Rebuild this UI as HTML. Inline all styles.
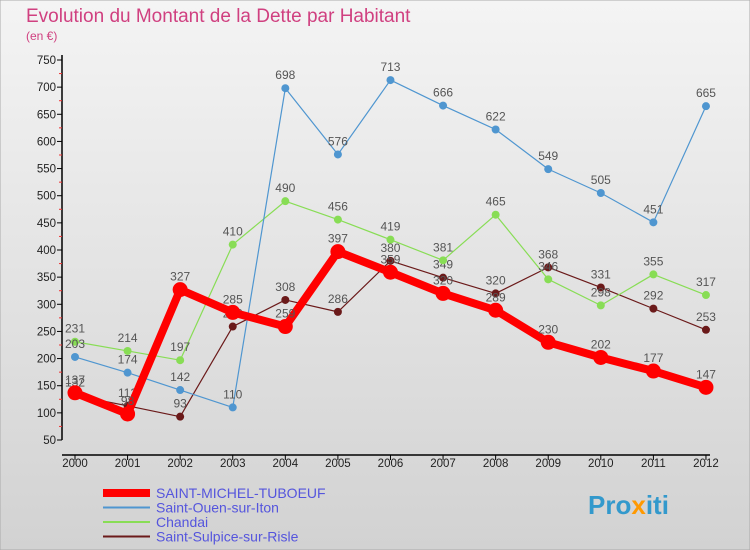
<!DOCTYPE html>
<html><head><meta charset="utf-8"><style>
body{margin:0;width:750px;height:550px;overflow:hidden;font-family:"Liberation Sans",sans-serif}
#c{position:absolute;left:0;top:0}
</style></head><body>
<svg id="c" width="750" height="550">
<defs>
<linearGradient id="bg" x1="0" y1="0" x2="0" y2="1"><stop offset="0" stop-color="#f4f4f4"/><stop offset="1" stop-color="#d2d2d2"/></linearGradient>
</defs>
<rect x="0" y="0" width="750" height="550" fill="url(#bg)" stroke="#aaa"/>
<text x="26" y="22" font-size="19" fill="#d04080">Evolution du Montant de la Dette par Habitant</text>
<text x="26" y="40" font-size="12" fill="#d04080">(en €)</text>
<g id="axes"></g>
<g id="series"></g>
<g id="legend"></g>
<text x="588" y="514" font-size="26" font-weight="bold" fill="#3399cc">Pro<tspan fill="#ff9900">x</tspan>iti</text>
</svg>
<script>
const years=[2000,2001,2002,2003,2004,2005,2006,2007,2008,2009,2010,2011,2012];
const yTicks=[50,100,150,200,250,300,350,400,450,500,550,600,650,700,750];
const seriesNames=["SAINT-MICHEL-TUBOEUF","Saint-Ouen-sur-Iton","Chandai","Saint-Sulpice-sur-Risle"];
const saintMichel=[137,98,327,285,259,397,359,320,289,230,202,177,147];
const saintOuen=[203,174,142,110,698,576,713,666,622,549,505,451,665];
const chandai=[231,214,197,410,490,456,419,381,465,346,298,355,317];
const saintSulpice=[132,113,93,259,308,286,380,349,320,368,331,292,253];
const NS="http://www.w3.org/2000/svg";
function X(i){return 75+i*52.58;}
function Y(v){return 440-(v-50)*380/700;}
function mk(t,a,p){const e=document.createElementNS(NS,t);for(const k in a)e.setAttribute(k,a[k]);p.appendChild(e);return e;}
const ax=document.getElementById('axes');
let l=mk('line',{x1:62,y1:55,x2:62,y2:440,stroke:'#000','stroke-width':1.5},ax);


l=mk('line',{x1:62,y1:455,x2:710,y2:455,stroke:'#000','stroke-width':1.5},ax);


yTicks.forEach(v=>{
 mk('line',{x1:57,y1:Y(v),x2:62,y2:Y(v),stroke:'#000'},ax);
 if(v<750) mk('line',{x1:59,y1:Y(v+25),x2:62,y2:Y(v+25),stroke:'#e33'},ax);
 const t=mk('text',{x:56,y:Y(v)+4,'font-size':11.5,'text-anchor':'end',fill:'#222'},ax);
 t.textContent=v;
 
 
});
years.forEach((y,i)=>{
 mk('line',{x1:X(i),y1:455,x2:X(i),y2:460,stroke:'#000'},ax);
 const t=mk('text',{x:X(i),y:467,'font-size':11.5,'text-anchor':'middle',fill:'#222'},ax);
 t.textContent=y;
 
 
});
const sg=document.getElementById('series');
const defs=[
 {d:saintSulpice,c:'#6b1a1a',w:1.2,r:4,name:'series-saint-sulpice'},
 {d:chandai,c:'#88dd55',w:1.2,r:4,name:'series-chandai'},
 {d:saintOuen,c:'#4f96d0',w:1.2,r:4,name:'series-saint-ouen'},
 {d:saintMichel,c:'#ff0000',w:8,r:7.5,name:'series-saint-michel'}
];
defs.forEach(s=>{
 const g=mk('g',{},sg);
 
 
 s.d.forEach((v,i)=>{
  if(i>0){mk('line',{x1:X(i-1),y1:Y(s.d[i-1]),x2:X(i),y2:Y(v),stroke:s.c,'stroke-width':s.w,'stroke-linecap':'round'},g);}
 });
 s.d.forEach((v,i)=>{
  const p=mk('circle',{cx:X(i),cy:Y(v),r:s.r,fill:s.c},g);
  
  
  const t=mk('text',{x:X(i),y:Y(v)-9,'font-size':12,'text-anchor':'middle',fill:'#555'},g);
  t.textContent=v;
  
  
 });
});
const lg=document.getElementById('legend');
const lc=['#ff0000','#4f96d0','#88dd55','#6b1a1a'];
seriesNames.forEach((n,i)=>{
 const y=493+i*14.5;
 const g=mk('g',{},lg);
 
 
 mk('line',{x1:103,y1:y,x2:150,y2:y,stroke:lc[i],'stroke-width':i==0?8:2},g);
 const t=mk('text',{x:156,y:y+5,'font-size':14,fill:'#5555dd'},g);
 t.textContent=n;
});
</script>
</body></html>
